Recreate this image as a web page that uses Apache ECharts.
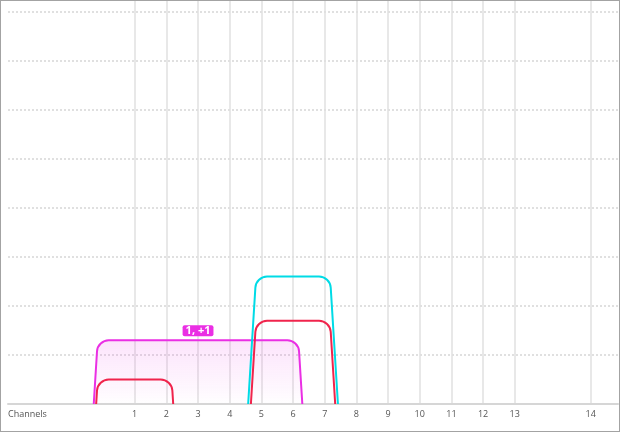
<!DOCTYPE html>
<html>
<head>
<meta charset="utf-8">
<script src="https://cdn.jsdelivr.net/npm/echarts@6/dist/echarts.min.js"></script>
<style>
  html, body { margin: 0; padding: 0; background: #fff; }
  #c { width: 618px; height: 430px; border: 1px solid #a3a3a3; }
</style>
</head>
<body>
<div id="c"></div>
<script>
// ---- data ----
const channelNumbers = [1, 2, 3, 4, 5, 6, 7, 8, 9, 10, 11, 12, 13, 14];
const channelFreqs = [2412, 2417, 2422, 2427, 2432, 2437, 2442, 2447, 2452, 2457, 2462, 2467, 2472, 2484];
const netCenterChannel = [3, 1, 6, 6];
const netWidthMHz = [40, 20, 20, 20];
const netSignalDbm = [-87, -95, -83, -74];
const netLabel = ['1, +1', '', '', ''];

// ---- styles ----
const netColors = ['#ea2fe4', '#f0244c', '#f0244c', '#00dbe6'];
const netFilled = [true, false, false, false];
const Y_MIN = -100;
const TOP_INSET_MHZ = 4.16;
const SIDE_SLOPE = 0.062;
const CORNER = 11;
const K = 0.45;
const FONT = '"Open Sans", "Noto Sans", sans-serif';

function chFreq(ch) { return channelFreqs[channelNumbers.indexOf(ch)]; }

function makeRender(color, filled) {
  return function (params, api) {
    const f = api.value(0), w = api.value(1), s = api.value(2);
    const label = netLabel[params.seriesIndex];
    const half = w / 2 - TOP_INSET_MHZ;
    const tl = api.coord([f - half, s]);
    const tr = api.coord([f + half, s]);
    const baseY = api.coord([f, Y_MIN])[1];
    const h = baseY - tl[1];
    const blx = tl[0] - SIDE_SLOPE * h, brx = tr[0] + SIDE_SLOPE * h;
    const r = Math.min(CORNER, h);
    const sr = SIDE_SLOPE * r;
    const d = 'M' + blx + ',' + baseY +
      ' L' + (tl[0] - sr) + ',' + (tl[1] + r) +
      ' C' + (tl[0] - sr * K) + ',' + (tl[1] + r * K) + ' ' + (tl[0] + r * K) + ',' + tl[1] + ' ' + (tl[0] + r) + ',' + tl[1] +
      ' L' + (tr[0] - r) + ',' + tr[1] +
      ' C' + (tr[0] - r * K) + ',' + tr[1] + ' ' + (tr[0] + sr * K) + ',' + (tr[1] + r * K) + ' ' + (tr[0] + sr) + ',' + (tr[1] + r) +
      ' L' + brx + ',' + baseY;
    const children = [{
      type: 'path',
      shape: { pathData: d, layout: 'cover', x: blx, y: tl[1], width: brx - blx, height: h },
      style: {
        stroke: color, lineWidth: 2,
        fill: filled ? new echarts.graphic.LinearGradient(0, 0, 0, 1, [
          { offset: 0, color: 'rgba(234,47,228,0.13)' },
          { offset: 0.75, color: 'rgba(234,47,228,0.04)' },
          { offset: 1, color: 'rgba(234,47,228,0)' }
        ]) : 'none'
      }
    }];
    if (label) {
      children.push({
        type: 'text',
        x: (tl[0] + tr[0]) / 2,
        y: tl[1] - 4,
        style: {
          text: label, fill: '#fff', font: 'bold 11px ' + FONT,
          align: 'center', verticalAlign: 'bottom',
          backgroundColor: color, padding: [0, 3, 0, 3], borderRadius: 2
        }
      });
    }
    return { type: 'group', children: children };
  };
}

const chart = echarts.init(document.getElementById('c'), null, { renderer: 'canvas' });
const option = {
  animation: false,
  grid: { left: 7, right: 1, top: 0, bottom: 27, containLabel: false },
  xAxis: {
    type: 'value', min: 2392, max: 2488.3,
    axisLine: { show: true, lineStyle: { color: '#d6d6d6', width: 2 } },
    axisTick: { show: false, customValues: channelFreqs },
    axisLabel: {
      customValues: channelFreqs,
      formatter: function (v) { const i = channelFreqs.indexOf(v); return i >= 0 ? String(channelNumbers[i]) : ''; },
      color: '#555', fontSize: 9, fontFamily: FONT, margin: 6
    },
    splitLine: { show: true, lineStyle: { color: '#e0e0e0', width: 1.5 } },
    name: 'Channels', nameLocation: 'start', nameGap: 0,
    nameTextStyle: { align: 'left', verticalAlign: 'top', padding: [6, 0, 0, 0], color: '#555', fontSize: 9, fontFamily: FONT }
  },
  yAxis: {
    type: 'value', min: Y_MIN, max: -100 + 403 / 4.9, interval: 10,
    axisLine: { show: false }, axisTick: { show: false }, axisLabel: { show: false },
    splitLine: { show: true, showMinLine: false, showMaxLine: false, lineStyle: { color: '#d6d6d6', type: [2, 2], width: 1.5 } }
  },
  series: netCenterChannel.map(function (ch, i) {
    return {
      type: 'custom',
      renderItem: makeRender(netColors[i], netFilled[i]),
      encode: { x: 0, y: 2 },
      data: [[chFreq(ch), netWidthMHz[i], netSignalDbm[i]]],
      z: 2 + i
    };
  })
};
chart.setOption(option);
</script>
</body>
</html>
